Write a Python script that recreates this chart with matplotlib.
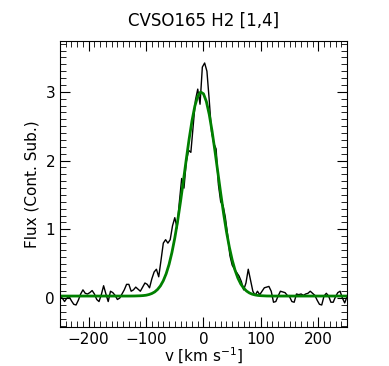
import matplotlib
matplotlib.use('Agg')
import matplotlib.pyplot as plt
from matplotlib.ticker import MultipleLocator

# spectrum of the line (velocity in km/s, continuum subtracted flux)
velocity = [
    -250, -246, -242, -238, -234, -230, -226, -222, -218, -214,
    -210, -206, -202, -198, -194, -190, -186, -182, -178, -174,
    -170, -166, -162, -158, -154, -150, -146, -142, -138, -134,
    -130, -126, -122, -118, -114, -110, -106, -102, -98, -94,
    -90, -86, -82, -78, -74, -70, -66, -62, -58, -54,
    -50, -46, -42, -38, -34, -30, -26, -22, -18, -14,
    -10, -6, -2, 2, 6, 10, 14, 18, 22, 26,
    30, 34, 38, 42, 46, 50, 54, 58, 62, 66,
    70, 74, 78, 82, 86, 90, 94, 98, 102, 106,
    110, 114, 118, 122, 126, 130, 134, 138, 142, 146,
    150, 154, 158, 162, 166, 170, 174, 178, 182, 186,
    190, 194, 198, 202, 206, 210, 214, 218, 222, 226,
    230, 234, 238, 242, 246, 250,
]
flux = [
    0.02, 0.00, -0.05, 0.00, 0.02, -0.04, -0.09, -0.10, -0.03, 0.06,
    0.12, 0.07, 0.06, 0.08, 0.11, 0.06, -0.02, -0.05, 0.05, 0.18,
    0.06, -0.05, 0.10, 0.08, 0.04, -0.02, 0.00, 0.06, 0.12, 0.20,
    0.20, 0.10, 0.12, 0.16, 0.13, 0.10, 0.16, 0.22, 0.20, 0.15,
    0.28, 0.38, 0.42, 0.31, 0.55, 0.80, 0.85, 0.80, 0.85, 1.05,
    1.17, 1.02, 1.40, 1.74, 1.60, 1.98, 2.15, 2.12, 2.50, 2.88,
    3.04, 2.82, 3.36, 3.42, 3.30, 2.88, 2.42, 2.25, 2.17, 1.65,
    1.40, 1.35, 1.18, 0.92, 0.62, 0.48, 0.42, 0.37, 0.32, 0.24,
    0.12, 0.22, 0.42, 0.26, 0.10, 0.04, 0.10, 0.05, 0.10, 0.15,
    0.16, 0.17, 0.10, -0.06, -0.05, 0.03, 0.10, 0.09, 0.08, 0.04,
    0.02, -0.05, -0.06, 0.06, 0.05, 0.06, 0.04, 0.06, 0.07, 0.10,
    0.07, 0.04, -0.03, -0.09, -0.10, 0.03, 0.07, 0.03, -0.06, -0.06,
    0.02, 0.08, 0.10, 0.00, -0.07, 0.02,
]

# gaussian fit
fit_v = [
    -250, -200, -150, -130, -120, -110, -105, -100, -95, -90,
    -85, -80, -75, -70, -65, -60, -55, -50, -45, -40,
    -35, -30, -25, -20, -15, -10, -5, 0, 5, 10,
    15, 20, 25, 30, 35, 40, 45, 50, 55, 60,
    65, 70, 75, 80, 85, 90, 95, 100, 110, 120,
    150, 200, 250,
]
fit_flux = [
    0.03, 0.03, 0.03, 0.03, 0.031, 0.034, 0.037, 0.042, 0.052, 0.067,
    0.090, 0.126, 0.178, 0.253, 0.355, 0.490, 0.663, 0.874, 1.123, 1.405,
    1.707, 2.017, 2.315, 2.581, 2.794, 2.937, 2.998, 2.972, 2.860, 2.673,
    2.427, 2.139, 1.831, 1.524, 1.232, 0.969, 0.743, 0.555, 0.405, 0.290,
    0.205, 0.145, 0.103, 0.075, 0.057, 0.046, 0.039, 0.035, 0.031, 0.03,
    0.03, 0.03, 0.03,
]

fig = plt.figure(figsize=(3.89, 3.66), dpi=100)
ax = fig.add_axes([0.1542, 0.1066, 0.7378, 0.7814])

ax.plot(velocity, flux, color='black', lw=1.0)
ax.plot(fit_v, fit_flux, color='green', lw=2.0)

ax.set_xlim(-250, 250)
ax.set_ylim(-0.42, 3.74)
ax.xaxis.set_major_locator(MultipleLocator(100))
ax.xaxis.set_minor_locator(MultipleLocator(10))
ax.yaxis.set_major_locator(MultipleLocator(1))
ax.yaxis.set_minor_locator(MultipleLocator(0.1))
ax.tick_params(which='both', direction='in', top=True, right=True, labelsize=11)
ax.tick_params(which='major', length=7)
ax.tick_params(which='minor', length=4)

ax.set_title('CVSO165 H2 [1,4]', fontsize=12, pad=11)
ax.set_xlabel('v [km s$^{-1}$]', fontsize=11, labelpad=-1)
ax.set_ylabel('Flux (Cont. Sub.)', fontsize=11)

fig.savefig('out.png', dpi=100)
